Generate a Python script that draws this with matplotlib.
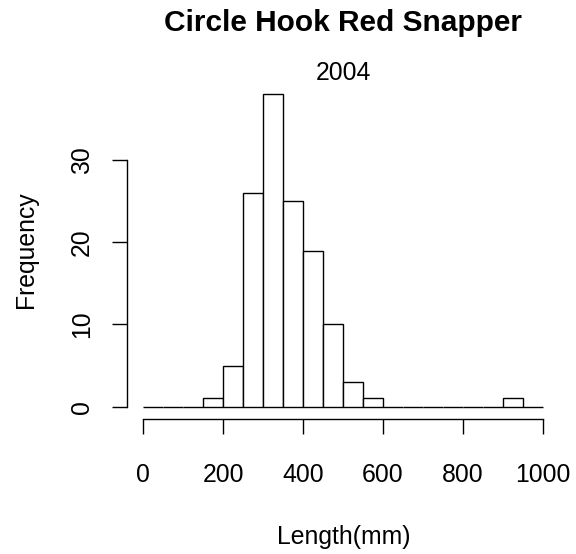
import matplotlib
matplotlib.use("Agg")
import matplotlib.pyplot as plt

# --- Data (50 mm bins) ---
bin_edges = list(range(0, 1000, 50))
counts = [0, 0, 0, 1, 5, 26, 38, 25, 19, 10, 3, 1, 0, 0, 0, 0, 0, 0, 1, 0]
x_ticks = [0, 200, 400, 600, 800, 1000]
y_ticks = [0, 10, 20, 30]

title = "Circle Hook Red Snapper"
subtitle = "2004"
x_label = "Length(mm)"
y_label = "Frequency"

plt.rcParams['font.family'] = ['Liberation Sans', 'DejaVu Sans']
FS = 17.8

W, H = 576, 554
fig = plt.figure(figsize=(W / 100, H / 100), dpi=100)
# plot region in pixels: left 127, right 559, top 82, bottom 419
ax = fig.add_axes([127 / W, 1 - 419.2 / H, 432 / W, 337.4 / H])

ax.bar(bin_edges, counts, width=50, align='edge', color='white',
       edgecolor='black', linewidth=1.0)

ax.set_xlim(-40, 1040)
ax.set_ylim(-1.52, 39.52)

for s in ['top', 'right']:
    ax.spines[s].set_visible(False)
ax.spines['left'].set_bounds(0, 30)
ax.spines['bottom'].set_bounds(0, 1000)
for s in ['left', 'bottom']:
    ax.spines[s].set_linewidth(1.0)

ax.set_xticks(x_ticks)
ax.set_xticklabels([str(v) for v in x_ticks], fontsize=FS)
ax.set_yticks(y_ticks)
ax.set_yticklabels([str(v) for v in y_ticks], fontsize=FS, rotation=90, va='center')
ax.tick_params(axis='both', direction='out', length=10.8, width=1.0)
ax.tick_params(axis='x', pad=20.5)
ax.tick_params(axis='y', pad=13)

# titles and axis labels placed on their baselines (R style margins)
cx = 343.5 / W
fig.text(cx, 1 - 31 / H, title, ha='center', va='baseline', fontsize=21.5, fontweight='bold')
fig.text(cx, 1 - 80 / H, subtitle, ha='center', va='baseline', fontsize=FS)
fig.text(cx, 1 - 544 / H, x_label, ha='center', va='baseline', fontsize=FS)
fig.text(33 / W, 1 - 250 / H, y_label, ha='center', va='baseline', rotation=90,
         rotation_mode='anchor', fontsize=FS)

fig.savefig("out.png", dpi=100)
